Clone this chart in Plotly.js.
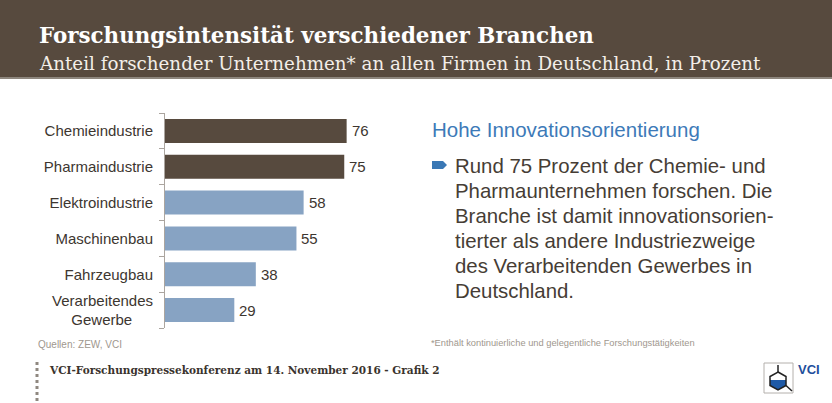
<!DOCTYPE html>
<html>
<head>
<meta charset="utf-8">
<script src="https://cdn.plot.ly/plotly-3.0.1.min.js"></script>
<style>
html,body{margin:0;padding:0;background:#fff;}
#chart{width:832px;height:403px;}
</style>
</head>
<body>
<div id="chart"></div>
<script>
// ---- data ----
const categories = ["Chemieindustrie", "Pharmaindustrie", "Elektroindustrie", "Maschinenbau", "Fahrzeugbau", "Verarbeitendes Gewerbe"];
const tickLabels = ["Chemieindustrie", "Pharmaindustrie", "Elektroindustrie", "Maschinenbau", "Fahrzeugbau", "Verarbeitendes<br>Gewerbe\u00A0\u00A0\u00A0\u00A0\u00A0"];
const values = [76, 75, 58, 55, 38, 29];
const highlight = [true, true, false, false, false, false];

const titleText = "Forschungsintensität verschiedener Branchen";
const subtitleText = "Anteil forschender Unternehmen* an allen Firmen in Deutschland, in Prozent";
const headingText = "Hohe Innovationsorientierung";
const bodyLines = ["Rund 75 Prozent der Chemie- und", "Pharmaunternehmen forschen. Die", "Branche ist damit innovationsorien-", "tierter als andere Industriezweige", "des Verarbeitenden Gewerbes in", "Deutschland."];
const sourceText = "Quellen: ZEW, VCI";
const noteText = "*Enthält kontinuierliche und gelegentliche Forschungstätigkeiten";
const footerText = "VCI-Forschungspressekonferenz am 14. November 2016 - Grafik 2";

// ---- styling ----
const W = 832, H = 403;
const px = x => x / W;
const py = y => 1 - y / H;
const BROWN = "#574a3e";
const BLUE = "#87a3c3";
const TEXT = "#3d3630";
const SANS = "Liberation Sans, Arial, sans-serif";
const SERIF = "DejaVu Serif, serif";

const trace = {
  type: "bar",
  orientation: "h",
  x: values,
  y: categories,
  marker: {color: highlight.map(h => h ? BROWN : BLUE)},
  hoverinfo: "skip"
};

const annotations = [];
// value labels
categories.forEach((c, i) => {
  annotations.push({
    xref: "x", yref: "y", x: values[i], y: c,
    text: String(values[i]), showarrow: false,
    xanchor: "left", yanchor: "middle", xshift: 3,
    font: {family: SANS, size: 15, color: TEXT}
  });
});
// header
annotations.push({xref: "paper", yref: "paper", x: px(37), y: py(35), xanchor: "left", yanchor: "middle",
  text: "<b>" + titleText + "</b>", showarrow: false,
  font: {family: SERIF, size: 21.4, color: "#ffffff"}});
annotations.push({xref: "paper", yref: "paper", x: px(37), y: py(64), xanchor: "left", yanchor: "middle",
  text: subtitleText, showarrow: false,
  font: {family: SERIF, size: 18.3, color: "#f3eee8"}});
// right panel
annotations.push({xref: "paper", yref: "paper", x: px(430), y: py(130), xanchor: "left", yanchor: "middle",
  text: headingText, showarrow: false,
  font: {family: SANS, size: 20.5, color: "#3d7ab8"}});
bodyLines.forEach((line, i) => {
  annotations.push({xref: "paper", yref: "paper", x: px(453), y: py(166 + 25 * i), xanchor: "left", yanchor: "middle",
    text: line, showarrow: false, align: "left",
    font: {family: SANS, size: 20.4, color: "#463d35"}});
});
// sources
annotations.push({xref: "paper", yref: "paper", x: px(36), y: py(344), xanchor: "left", yanchor: "middle",
  text: sourceText, showarrow: false,
  font: {family: SANS, size: 10, color: "#a0978e"}});
annotations.push({xref: "paper", yref: "paper", x: px(429), y: py(343), xanchor: "left", yanchor: "middle",
  text: noteText, showarrow: false,
  font: {family: SANS, size: 9.3, color: "#a0978e"}});
// footer
annotations.push({xref: "paper", yref: "paper", x: px(47), y: py(370), xanchor: "left", yanchor: "middle",
  text: "<b>" + footerText + "</b>", showarrow: false,
  font: {family: SERIF, size: 10.5, color: "#3a332d"}});
annotations.push({xref: "paper", yref: "paper", x: px(796), y: py(369), xanchor: "left", yanchor: "middle",
  text: "<b>VCI</b>", showarrow: false,
  font: {family: "Liberation Sans Narrow, Liberation Sans, Arial, sans-serif", size: 13, color: "#1f4f9c"}});

function poly(pts) {
  return "M" + pts.map(p => px(p[0]) + "," + py(p[1])).join(" L") + " Z";
}
const hex = [[778,372],[786,376.5],[786,385.5],[778,390],[770,385.5],[770,376.5]];
const hexFill = [[770,380],[786,380],[786,385.5],[778,390],[770,385.5]];

const shapes = [
  // header band
  {type: "rect", xref: "paper", yref: "paper", x0: 0, x1: 1, y0: py(77), y1: 1, fillcolor: BROWN, line: {width: 0}, layer: "below"},
  {type: "line", xref: "paper", yref: "paper", x0: 0, x1: 1, y0: py(78), y1: py(78), line: {color: "#8d867d", width: 2}},
  // bullet arrow
  {type: "path", xref: "paper", yref: "paper", path: poly([[432,161],[443,161],[447,165],[443,169],[432,169]]), fillcolor: "#3a78b5", line: {width: 0}},
  // dotted footer line
  {type: "line", xref: "paper", yref: "paper", x0: px(37), x1: px(37), y0: py(362), y1: py(403), line: {color: "#8f8880", width: 3, dash: "dot"}},
  // logo
  {type: "rect", xref: "paper", yref: "paper", x0: px(764), x1: px(793), y0: py(393), y1: py(363), line: {color: "#b4b0ac", width: 1}, fillcolor: "rgba(0,0,0,0)"},
  {type: "path", xref: "paper", yref: "paper", path: poly(hexFill), fillcolor: "#1f5aa6", line: {width: 0}},
  {type: "path", xref: "paper", yref: "paper", path: poly(hex), fillcolor: "rgba(0,0,0,0)", line: {color: "#222", width: 1.5}},
  {type: "line", xref: "paper", yref: "paper", x0: px(778), x1: px(778), y0: py(365), y1: py(372), line: {color: "#222", width: 1.5}},
  {type: "line", xref: "paper", yref: "paper", x0: px(786), x1: px(792), y0: py(385.5), y1: py(391), line: {color: "#222", width: 1.5}}
];

const layout = {
  width: W, height: H,
  margin: {l: 0, r: 0, t: 0, b: 0},
  paper_bgcolor: "#ffffff", plot_bgcolor: "#ffffff",
  showlegend: false,
  bargap: 0.33,
  xaxis: {domain: [px(165), px(404)], range: [0, 100], visible: false, fixedrange: true},
  yaxis: {
    domain: [py(328), py(113)],
    autorange: "reversed",
    tickmode: "array", tickvals: categories, ticktext: tickLabels,
    showline: true, linecolor: "#aba59f", linewidth: 1,
    ticks: "outside", tickson: "boundaries", ticklen: 5, tickcolor: "#aba59f", tickwidth: 1,
    ticklabelstandoff: 8,
    showgrid: false, zeroline: false,
    tickfont: {family: SANS, size: 15, color: TEXT},
    fixedrange: true
  },
  annotations: annotations,
  shapes: shapes
};

Plotly.newPlot("chart", [trace], layout, {displayModeBar: false, staticPlot: true});
</script>
</body>
</html>
